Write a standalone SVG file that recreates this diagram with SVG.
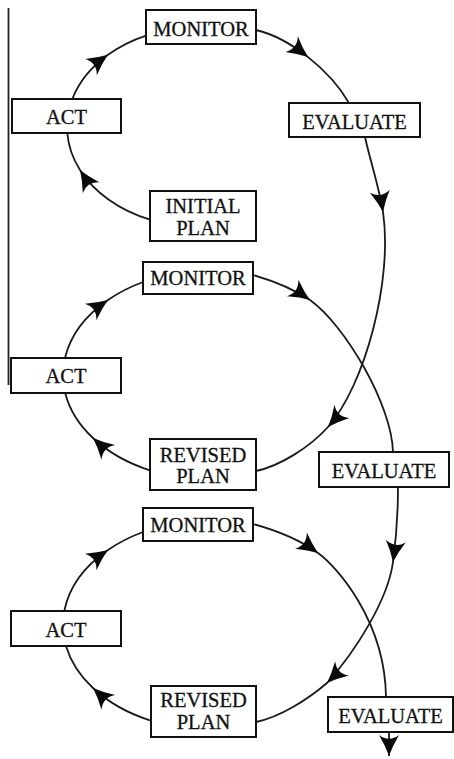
<svg xmlns="http://www.w3.org/2000/svg" width="454" height="759" viewBox="0 0 454 759">
<style>
.box{fill:#fff;stroke:#111;stroke-width:2}
.lbl{font-family:"Liberation Serif","Times New Roman",serif;font-size:20.5px;fill:#111;stroke:#111;stroke-width:0.3;text-anchor:middle}
.c{fill:none;stroke:#1a1a1a;stroke-width:1.8}
.m{marker-mid:url(#ah)}
.e{marker-end:url(#ah)}
</style>
<defs>
<marker id="ah" markerUnits="userSpaceOnUse" viewBox="-23 -12 24 24" refX="0" refY="0" markerWidth="24" markerHeight="24" orient="auto">
<path d="M0,0 Q-10,-3.5 -21,-10 Q-13.5,0 -21,10 Q-10,3.5 0,0 Z" fill="#0a0a0a"/>
</marker>
</defs>
<line x1="8.5" y1="8" x2="8.5" y2="385" stroke="#222" stroke-width="1.8"/>
<g id="connectors">
<path class="c m" d="M150,219.7 A133,100 0 0 1 80,170 A133,100 0 0 1 67.3,133"/>
<path class="c m" d="M72.3,99 A133,100 0 0 1 108,54.8 A133,100 0 0 1 146,35.6"/>
<path class="c m" d="M256,30 C273,34 291.5,44 308.1,57.1 C324.75,70.25 339.5,86.5 349,103"/>
<path class="c m" d="M365,137 C370,160 379,187 383,212 C393,280 365,385 328,427 C310,447 280,466 256,471"/>
<path class="c m" d="M65,358 A149.5,105 0 0 1 108,300 A149.5,105 0 0 1 143,282"/>
<path class="c m" d="M150,470.4 A149.5,105 0 0 1 93,438 A149.5,105 0 0 1 65.2,393"/>
<path class="c m" d="M253,275 C270,280 292,288 310,300 C345,325 392,405 393,452"/>
<path class="c m" d="M398,487 C398,510 396,540 393,562 C388,600 355,652 327,683 C307,700 280,717 256,722"/>
<path class="c m" d="M64.3,611 A149.5,105 0 0 1 108,550 A149.5,105 0 0 1 143,532"/>
<path class="c m" d="M150,720.4 A149.5,105 0 0 1 93,688 A149.5,105 0 0 1 66,646"/>
<path class="c m" d="M253,524 C275,530 300,540 318,553 C336,566 385,620 386,697"/>
<path class="c e" d="M389,732 L389,756"/>
</g>
<g id="monitor1"><rect class="box" x="146" y="10" width="110" height="34"/><text class="lbl" x="201" y="35.5">MONITOR</text></g>
<g id="act1"><rect class="box" x="12" y="99" width="109" height="34"/><text class="lbl" x="66.5" y="124">ACT</text></g>
<g id="evaluate1"><rect class="box" x="289" y="103" width="131" height="34"/><text class="lbl" x="354.5" y="129">EVALUATE</text></g>
<g id="initialplan"><rect class="box" x="150" y="191" width="106" height="50"/><text class="lbl" x="203" y="213">INITIAL</text><text class="lbl" x="203" y="234.5">PLAN</text></g>
<g id="monitor2"><rect class="box" x="143" y="262" width="110" height="32"/><text class="lbl" x="198" y="285">MONITOR</text></g>
<g id="act2"><rect class="box" x="11" y="358" width="110" height="35"/><text class="lbl" x="66" y="383">ACT</text></g>
<g id="revisedplan1"><rect class="box" x="150" y="439" width="106" height="51"/><text class="lbl" x="203" y="462">REVISED</text><text class="lbl" x="203" y="483">PLAN</text></g>
<g id="evaluate2"><rect class="box" x="319" y="452" width="130" height="35"/><text class="lbl" x="384" y="478">EVALUATE</text></g>
<g id="monitor3"><rect class="box" x="143" y="508" width="110" height="33"/><text class="lbl" x="198" y="531.5">MONITOR</text></g>
<g id="act3"><rect class="box" x="11" y="611" width="110" height="35"/><text class="lbl" x="66" y="636.5">ACT</text></g>
<g id="revisedplan2"><rect class="box" x="151" y="686" width="105" height="51"/><text class="lbl" x="203.5" y="707">REVISED</text><text class="lbl" x="203.5" y="728.5">PLAN</text></g>
<g id="evaluate3"><rect class="box" x="328" y="697" width="125" height="35"/><text class="lbl" x="390.5" y="722.5">EVALUATE</text></g>
</svg>
